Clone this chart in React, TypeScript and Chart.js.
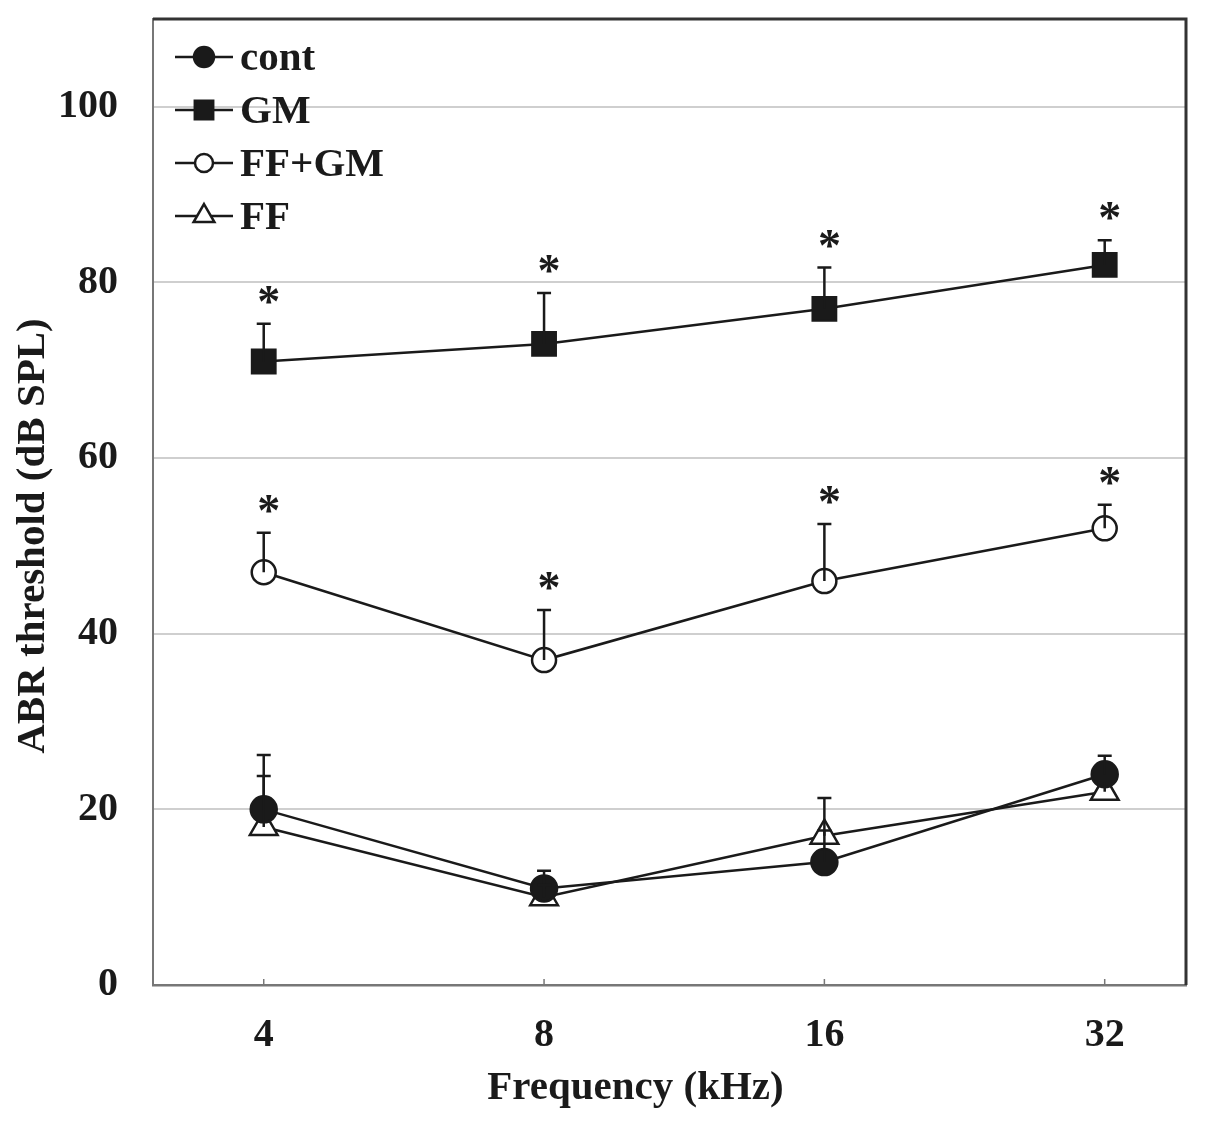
import { useEffect, useRef } from 'react';
import { Chart, registerables } from 'chart.js';
import { drawPoint } from 'chart.js/helpers';

Chart.register(...registerables);

// frequencies (kHz) on the x axis
const frequencies = ['4', '8', '16', '32'];
const yTickValues = [0, 20, 40, 60, 80, 100];

// mean ABR thresholds (dB SPL)
const contMean = [20, 11, 14, 24];
const gmMean = [71, 73, 77, 82];
const ffgmMean = [47, 37, 46, 52];
const ffMean = [18, 10, 17, 22];

// upper error (SD)
const contSD = [6.2, 2.0, 3.6, 2.1];
const gmSD = [4.3, 5.8, 4.7, 2.8];
const ffgmSD = [4.5, 5.7, 6.5, 2.7];
const ffSD = [5.8, 1.4, 4.3, 1.2];

// significance marks (*)
const gmSig = [true, true, true, true];
const ffgmSig = [true, true, true, true];

const xTitle = 'Frequency (kHz)';
const yTitle = 'ABR threshold (dB SPL)';

const FONT = '"Liberation Serif", "Times New Roman", serif';
const INK = '#1a1a1a';

const toPoints = (arr: number[]) => arr.map((v, i) => ({ x: i, y: v }));

const errorBarPlugin = {
  id: 'errorBars',
  afterDatasetsDraw(chart: any) {
    const { ctx } = chart;
    const xs = chart.scales.x;
    const ys = chart.scales.y;
    ctx.save();
    chart.data.datasets.forEach((ds: any) => {
      const sd: number[] = ds.sd || [];
      const sig: boolean[] = ds.sig || [];
      ds.data.forEach((p: any, i: number) => {
        const px = xs.getPixelForValue(p.x);
        const py = ys.getPixelForValue(p.y);
        const top = ys.getPixelForValue(p.y + (sd[i] || 0));
        ctx.strokeStyle = INK;
        ctx.lineWidth = 2.5;
        ctx.beginPath();
        ctx.moveTo(px, py);
        ctx.lineTo(px, top);
        ctx.moveTo(px - 7, top);
        ctx.lineTo(px + 7, top);
        ctx.stroke();
        if (sig[i]) {
          ctx.fillStyle = INK;
          ctx.font = `bold 46px ${FONT}`;
          ctx.textAlign = 'center';
          ctx.textBaseline = 'alphabetic';
          ctx.fillText('*', px + 5, top - 7);
        }
      });
    });
    ctx.restore();
  },
};

const framePlugin = {
  id: 'frame',
  afterDraw(chart: any) {
    const { ctx, chartArea } = chart;
    const { left, right, top, bottom } = chartArea;
    const xs = chart.scales.x;
    ctx.save();
    // top and right frame
    ctx.strokeStyle = '#333';
    ctx.lineWidth = 3;
    ctx.beginPath();
    ctx.moveTo(left, top);
    ctx.lineTo(right, top);
    ctx.lineTo(right, bottom);
    ctx.stroke();
    // inward x tick marks
    ctx.strokeStyle = '#777';
    ctx.lineWidth = 1.5;
    frequencies.forEach((_, i) => {
      const px = xs.getPixelForValue(i);
      ctx.beginPath();
      ctx.moveTo(px, bottom);
      ctx.lineTo(px, bottom - 6);
      ctx.stroke();
    });
    // legend inside plot
    chart.data.datasets.forEach((ds: any, i: number) => {
      const cy = top + 38 + i * 53;
      const x0 = left + 22;
      ctx.strokeStyle = INK;
      ctx.lineWidth = 2.5;
      ctx.beginPath();
      ctx.moveTo(x0, cy);
      ctx.lineTo(x0 + 58, cy);
      ctx.stroke();
      ctx.fillStyle = ds.pointBackgroundColor;
      ctx.strokeStyle = INK;
      ctx.lineWidth = 2.5;
      drawPoint(ctx, { pointStyle: ds.pointStyle, radius: ds.legendRadius, borderWidth: 2.5, rotation: 0 }, x0 + 29, cy);
      ctx.fillStyle = INK;
      ctx.font = `bold 41px ${FONT}`;
      ctx.textAlign = 'left';
      ctx.textBaseline = 'alphabetic';
      ctx.fillText(ds.label, x0 + 65, cy + 13);
    });
    // axis titles
    ctx.fillStyle = INK;
    ctx.font = `bold 41px ${FONT}`;
    ctx.textAlign = 'center';
    ctx.textBaseline = 'middle';
    ctx.fillText(xTitle, (left + right) / 2 - 34, bottom + 103);
    ctx.translate(33, (top + bottom) / 2 + 34);
    ctx.rotate(-Math.PI / 2);
    ctx.fillText(yTitle, 0, 0);
    ctx.restore();
  },
};

export default function App() {
  const canvasRef = useRef<HTMLCanvasElement>(null);
  const chartRef = useRef<Chart | null>(null);

  useEffect(() => {
    document.body.style.margin = '0';
    if (!canvasRef.current) return;
    if (chartRef.current) chartRef.current.destroy();

    const common = {
      borderColor: INK,
      borderWidth: 2.5,
      pointBorderColor: INK,
      pointBorderWidth: 2.5,
      tension: 0,
    };

    chartRef.current = new Chart(canvasRef.current, {
      type: 'line',
      data: {
        datasets: [
          {
            ...common,
            label: 'cont',
            data: toPoints(contMean),
            sd: contSD,
            pointStyle: 'circle',
            pointRadius: 13,
            legendRadius: 10,
            pointBackgroundColor: INK,
          },
          {
            ...common,
            label: 'GM',
            data: toPoints(gmMean),
            sd: gmSD,
            sig: gmSig,
            pointStyle: 'rect',
            pointRadius: 16.5,
            legendRadius: 13,
            pointBackgroundColor: INK,
          },
          {
            ...common,
            label: 'FF+GM',
            data: toPoints(ffgmMean),
            sd: ffgmSD,
            sig: ffgmSig,
            pointStyle: 'circle',
            pointRadius: 12,
            legendRadius: 9,
            pointBackgroundColor: '#ffffff',
          },
          {
            ...common,
            label: 'FF',
            data: toPoints(ffMean),
            sd: ffSD,
            pointStyle: 'triangle',
            pointRadius: 16,
            legendRadius: 12,
            pointBackgroundColor: '#ffffff',
          },
        ] as any,
      },
      options: {
        responsive: false,
        animation: false,
        layout: { padding: { left: 0, top: 13, right: 17, bottom: 0 } },
        plugins: {
          legend: { display: false },
          tooltip: { enabled: false },
        },
        scales: {
          x: {
            type: 'linear',
            min: -0.395,
            max: 3.29,
            afterBuildTicks: (scale: any) => {
              scale.ticks = frequencies.map((_, i) => ({ value: i }));
            },
            afterFit: (scale: any) => {
              scale.height = 138;
              scale.paddingLeft = 0;
              scale.paddingRight = 0;
            },
            grid: { display: false, drawTicks: false },
            border: { display: true, color: '#777', width: 2.5 },
            ticks: {
              padding: 27,
              color: INK,
              font: { family: FONT, size: 40, weight: 'bold' },
              callback: (v: any) => frequencies[v] ?? '',
            },
          },
          y: {
            min: 0,
            max: 110,
            afterBuildTicks: (scale: any) => {
              scale.ticks = yTickValues.map((v) => ({ value: v }));
            },
            afterFit: (scale: any) => {
              scale.width = 153;
              scale.paddingTop = 0;
              scale.paddingBottom = 0;
            },
            grid: {
              drawTicks: false,
              color: (c: any) => (c.tick && c.tick.value > 0 ? '#cfcfcf' : 'rgba(0,0,0,0)'),
              lineWidth: 2,
            },
            border: { display: true, color: '#777', width: 2 },
            ticks: {
              padding: 35,
              color: INK,
              font: { family: FONT, size: 40, weight: 'bold' },
            },
          },
        },
      } as any,
      plugins: [errorBarPlugin, framePlugin],
    });

    return () => {
      if (chartRef.current) {
        chartRef.current.destroy();
        chartRef.current = null;
      }
    };
  }, []);

  return (
    <div style={{ width: 1205, height: 1123, background: '#fff' }}>
      <canvas ref={canvasRef} width={1205} height={1123}></canvas>
    </div>
  );
}
